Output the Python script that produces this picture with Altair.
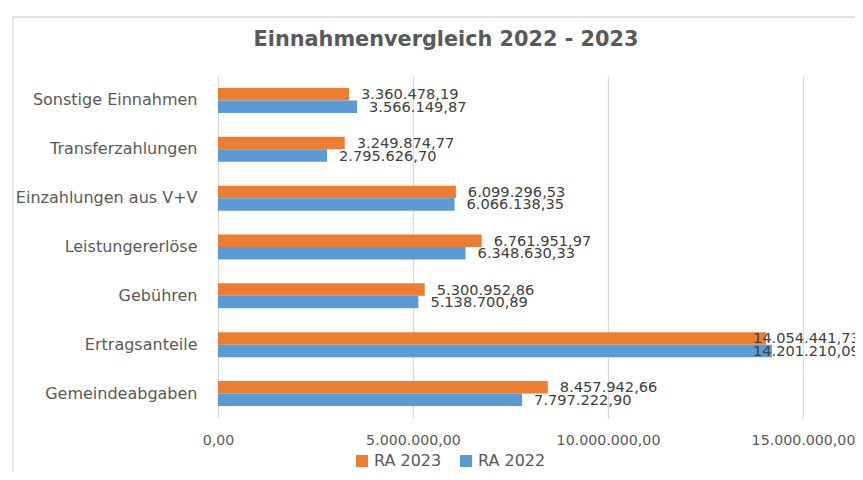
import altair as alt
import pandas as pd

categories = ["Sonstige Einnahmen", "Transferzahlungen", "Einzahlungen aus V+V",
              "Leistungererlöse", "Gebühren", "Ertragsanteile", "Gemeindeabgaben"]
ra_2023 = [3360478.19, 3249874.77, 6099296.53, 6761951.97, 5300952.86, 14054441.73, 8457942.66]
ra_2022 = [3566149.87, 2795626.70, 6066138.35, 6348630.33, 5138700.89, 14201210.09, 7797222.90]
series = ["RA 2023", "RA 2022"]
colors = ["#ED7D31", "#5B9BD5"]
x_ticks = [0, 5000000, 10000000, 15000000]
title_text = "Einnahmenvergleich 2022 - 2023"

rows = []
for c, a, b in zip(categories, ra_2023, ra_2022):
    rows.append({"cat": c, "series": series[0], "value": a})
    rows.append({"cat": c, "series": series[1], "value": b})
df = pd.DataFrame(rows)

FONT = "DejaVu Sans"
W, H = 637, 342

y_enc = alt.Y("cat:N", sort=categories, title=None,
              scale=alt.Scale(domain=categories, paddingInner=0.488, paddingOuter=0.244),
              axis=alt.Axis(labelFont=FONT, labelFontSize=16, labelColor="#595959",
                            labelPadding=21, labelLimit=400, ticks=False, domain=False,
                            grid=False))
yoff = alt.YOffset("series:N", sort=series, scale=alt.Scale(domain=series))

base = alt.Chart(df)

bars = base.mark_bar().encode(
    x=alt.X("value:Q", title=None,
            scale=alt.Scale(domain=[0, 16333333], nice=False, zero=True),
            axis=alt.Axis(values=x_ticks, format=",.2f", labelFont=FONT, labelFontSize=14.2,
                          labelColor="#595959", labelPadding=15, ticks=False, domain=False,
                          grid=True, gridColor="#D9D9D9", gridWidth=1.3,
                          labelFlush=False, labelOverlap=False)),
    y=y_enc,
    yOffset=yoff,
    color=alt.Color("series:N", sort=series,
                    scale=alt.Scale(domain=series, range=colors),
                    legend=alt.Legend(title=None, orient="none", legendX=136, legendY=377,
                                      direction="horizontal", symbolType="square",
                                      symbolSize=144, symbolStrokeWidth=0,
                                      labelFont=FONT, labelFontSize=16, labelColor="#595959",
                                      labelOffset=4, columnPadding=16)),
)

labels = base.transform_calculate(
    labelx="min(datum.value, 13410000)"
).mark_text(align="left", baseline="middle", dx=12, dy=1, font=FONT, fontSize=14.6,
            color="#404040").encode(
    x=alt.X("labelx:Q"),
    y=alt.Y("cat:N", sort=categories),
    yOffset=yoff,
    text=alt.Text("value:Q", format=",.2f"),
)

border = alt.Chart(alt.Data(values=[{"a": 1}])).mark_rect(
    fill=None, stroke="#D9D9D9", strokeWidth=1.3
).encode(
    x=alt.value(-205), x2=alt.value(W + 60),
    y=alt.value(-59), y2=alt.value(H + 100),
)

title = alt.Chart(alt.Data(values=[{"t": title_text}])).mark_text(
    font=FONT, fontSize=20.8, fontWeight="bold", color="#595959",
    align="center", baseline="middle"
).encode(
    text="t:N", x=alt.value(228), y=alt.value(-36),
)

chart = alt.layer(border, bars, labels, title).properties(
    width=W, height=H,
    autosize=alt.AutoSizeParams(type="none"),
    padding={"left": 210, "top": 68, "right": 0, "bottom": 54},
).configure(
    background="white",
    locale={"number": {"decimal": ",", "thousands": ".", "grouping": [3],
                       "currency": ["", " €"]}},
).configure_view(stroke=None)

chart.save("out.html", embed_options={"renderer": "svg", "actions": False})
